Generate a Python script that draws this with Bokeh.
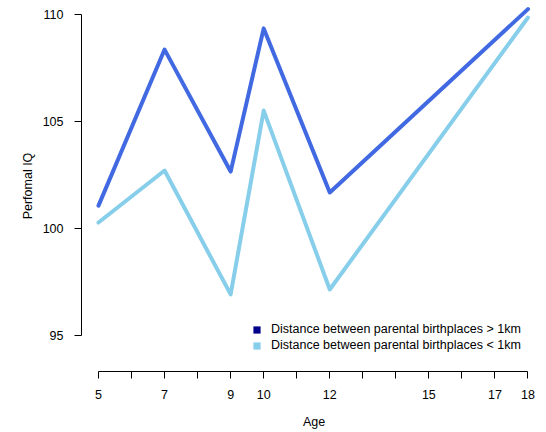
from bokeh.plotting import figure
from bokeh.models import Range1d, FixedTicker, Legend, LegendItem
from bokeh.embed import file_html
from bokeh.resources import INLINE

ages = [5, 7, 9, 10, 12, 18]
iq_far = [101.07, 108.36, 102.66, 109.35, 101.68, 110.25]
iq_near = [100.28, 102.71, 96.92, 105.51, 97.15, 109.86]
x_ticks = list(range(5, 19))
x_labels = {5: "5", 7: "7", 9: "9", 10: "10", 12: "12", 15: "15", 17: "17", 18: "18"}
y_ticks = [95, 100, 105, 110]
series_names = ["Distance between parental birthplaces > 1km",
                "Distance between parental birthplaces < 1km"]

FONT = "Liberation Sans"

p = figure(width=546, height=432, output_backend="svg", toolbar_location=None,
           x_range=Range1d(4.4855, 18.56), y_range=Range1d(93.318, 110.654),
           min_border_left=81, min_border_right=0, min_border_top=0, min_border_bottom=61)
p.outline_line_color = None
p.xgrid.visible = False
p.ygrid.visible = False
p.background_fill_color = "white"
p.border_fill_color = "white"

p.line(ages, iq_far, line_color="#4169E1", line_width=4, line_cap="round", line_join="round")
p.line(ages, iq_near, line_color="#87CEEB", line_width=4, line_cap="round", line_join="round")

# axes
xa = p.xaxis[0]
xa.ticker = FixedTicker(ticks=x_ticks)
xa.major_label_overrides = {t: x_labels.get(t, "") for t in x_ticks}
xa.bounds = (5, 18)
xa.minor_tick_line_color = None
xa.major_tick_out = 7
xa.major_tick_in = 0
xa.major_label_standoff = 11
xa.axis_label = "Age"
xa.axis_label_standoff = 13
ya = p.yaxis[0]
ya.ticker = FixedTicker(ticks=y_ticks)
ya.bounds = (95, 110)
ya.minor_tick_line_color = None
ya.major_tick_out = 7
ya.major_tick_in = 0
ya.major_label_standoff = 11
ya.axis_label = "Perfomal IQ"
ya.axis_label_standoff = 5
for ax in (xa, ya):
    ax.axis_line_color = "black"
    ax.major_tick_line_color = "black"
    ax.major_label_text_font = FONT
    ax.major_label_text_font_size = "12.5px"
    ax.major_label_text_color = "black"
    ax.axis_label_text_font = FONT
    ax.axis_label_text_font_size = "12.5px"
    ax.axis_label_text_font_style = "normal"
    ax.axis_label_text_color = "black"

# legend swatches (not plotted inside the frame)
nan = float("nan")
sw1 = p.quad(left=[nan], right=[nan], bottom=[nan], top=[nan], fill_color="#00008B", line_color=None)
sw2 = p.quad(left=[nan], right=[nan], bottom=[nan], top=[nan], fill_color="#87CEEB", line_color=None)
legend = Legend(items=[LegendItem(label=series_names[0], renderers=[sw1]),
                       LegendItem(label=series_names[1], renderers=[sw2])],
                location=(171, 19), margin=0, padding=0, spacing=2,
                glyph_width=9, glyph_height=9, label_height=13, label_standoff=10,
                label_text_font=FONT, label_text_font_size="12.5px", label_text_color="black",
                border_line_color=None, background_fill_alpha=0)
p.add_layout(legend, "center")

open("out.html", "w").write(file_html(p, INLINE))
